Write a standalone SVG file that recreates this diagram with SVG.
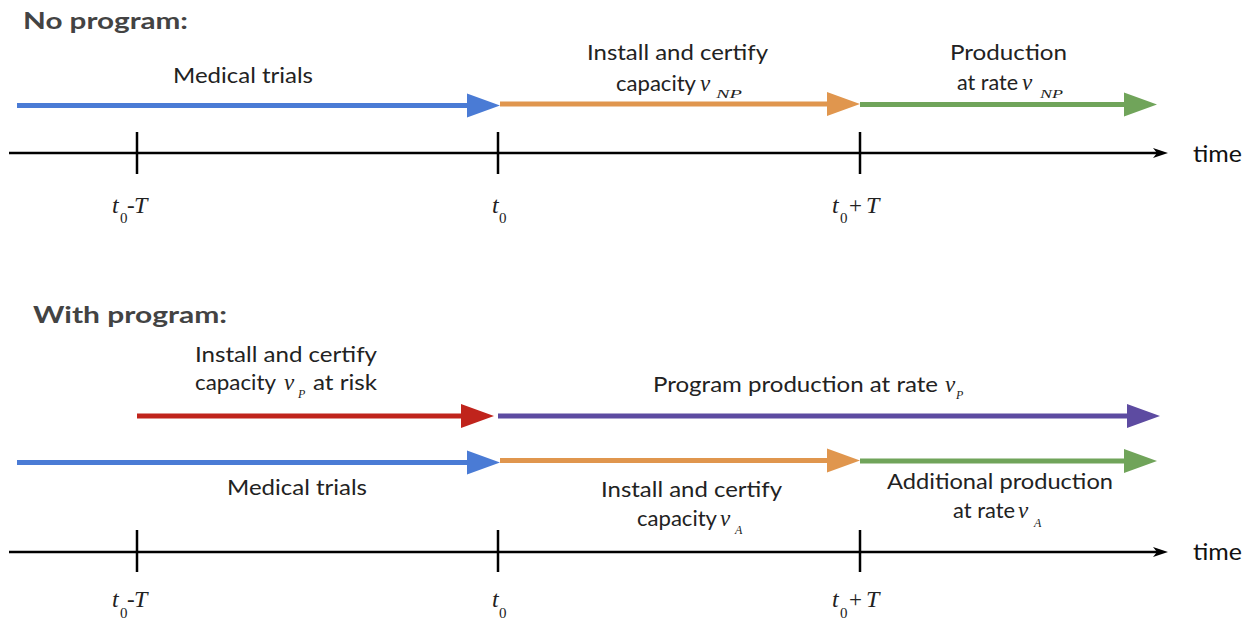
<svg xmlns="http://www.w3.org/2000/svg" width="1252" height="626" viewBox="0 0 1252 626">
<style>
.title{font-family:Lato,"Liberation Sans",sans-serif;font-weight:bold;font-size:22px;fill:#434343}
.lbl{font-family:Lato,"Liberation Sans",sans-serif;font-size:21px;fill:#222}
.m{font-family:"Liberation Serif",serif;font-style:italic;font-size:24px;fill:#222}
.v{font-family:"Liberation Serif",serif;font-style:italic;font-size:23px;fill:#222}
.ms{font-family:"Liberation Serif",serif;font-style:italic;font-size:12px;fill:#222}
.z{font-family:"Liberation Serif",serif;font-size:15px;fill:#222}
.op{font-family:"Liberation Serif",serif;font-size:23px;fill:#222}
.time{font-family:Lato,"Liberation Sans",sans-serif;font-size:23px;fill:#111}
.axis{stroke:#000;stroke-width:2.5;fill:none}
.tick{stroke:#000;stroke-width:2.5}
.seg{stroke-width:5;fill:none}
</style>
<defs>
<marker id="mBlue" markerUnits="userSpaceOnUse" markerWidth="34" markerHeight="26" refX="0" refY="12.5" orient="auto"><path d="M0,0.5 L33,12.5 L0,24.5 z" fill="#4a7bd5"/></marker>
<marker id="mOrange" markerUnits="userSpaceOnUse" markerWidth="34" markerHeight="26" refX="0" refY="12.5" orient="auto"><path d="M0,0.5 L33,12.5 L0,24.5 z" fill="#e0964e"/></marker>
<marker id="mGreen" markerUnits="userSpaceOnUse" markerWidth="34" markerHeight="26" refX="0" refY="12.5" orient="auto"><path d="M0,0.5 L33,12.5 L0,24.5 z" fill="#70a45a"/></marker>
<marker id="mRed" markerUnits="userSpaceOnUse" markerWidth="34" markerHeight="26" refX="0" refY="12.5" orient="auto"><path d="M0,0.5 L33,12.5 L0,24.5 z" fill="#c0241c"/></marker>
<marker id="mPurple" markerUnits="userSpaceOnUse" markerWidth="34" markerHeight="26" refX="0" refY="12.5" orient="auto"><path d="M0,0.5 L33,12.5 L0,24.5 z" fill="#5d4ba1"/></marker>
<marker id="mAxis" markerUnits="userSpaceOnUse" markerWidth="16" markerHeight="12" refX="4" refY="5.5" orient="auto"><path d="M0,0.5 L15,5.5 L0,10.5 L4,5.5 z" fill="#000"/></marker>
</defs>

<g id="titles">
<text class="title" x="23" y="29" textLength="165" lengthAdjust="spacingAndGlyphs">No program:</text>
<text class="title" x="33" y="323" textLength="194" lengthAdjust="spacingAndGlyphs">With program:</text>
</g>

<g id="connectors">
<line class="axis" x1="9" y1="153" x2="1157" y2="153" marker-end="url(#mAxis)"/>
<line class="seg" stroke="#4a7bd5" x1="17" y1="105.5" x2="467" y2="105.5" marker-end="url(#mBlue)"/>
<line class="seg" stroke="#e0964e" x1="500" y1="104" x2="827" y2="104" marker-end="url(#mOrange)"/>
<line class="seg" stroke="#70a45a" x1="860" y1="104.5" x2="1124" y2="104.5" marker-end="url(#mGreen)"/>
<line class="axis" x1="9" y1="552" x2="1157" y2="552" marker-end="url(#mAxis)"/>
<line class="seg" stroke="#c0241c" x1="137" y1="416" x2="461" y2="416" marker-end="url(#mRed)"/>
<line class="seg" stroke="#5d4ba1" x1="498" y1="416" x2="1127" y2="416" marker-end="url(#mPurple)"/>
<line class="seg" stroke="#4a7bd5" x1="17" y1="462.5" x2="467" y2="462.5" marker-end="url(#mBlue)"/>
<line class="seg" stroke="#e0964e" x1="500" y1="460.5" x2="827" y2="460.5" marker-end="url(#mOrange)"/>
<line class="seg" stroke="#70a45a" x1="860" y1="461" x2="1124" y2="461" marker-end="url(#mGreen)"/>
</g>

<g id="ticks">
<line class="tick" x1="137" y1="132" x2="137" y2="174"/>
<line class="tick" x1="498" y1="132" x2="498" y2="174"/>
<line class="tick" x1="860" y1="132" x2="860" y2="174"/>
<line class="tick" x1="137" y1="530" x2="137" y2="572"/>
<line class="tick" x1="498" y1="530" x2="498" y2="572"/>
<line class="tick" x1="860" y1="530" x2="860" y2="572"/>
</g>

<g id="top-labels">
<text class="lbl" x="173" y="83" textLength="140" lengthAdjust="spacingAndGlyphs">Medical trials</text>
<text class="lbl" x="587" y="60" textLength="181" lengthAdjust="spacingAndGlyphs">Install and certify</text>
<text class="lbl" x="616" y="91" textLength="80" lengthAdjust="spacingAndGlyphs">capacity</text>
<text class="v" x="700" y="91">v</text>
<text class="ms" x="716" y="98" textLength="26" lengthAdjust="spacingAndGlyphs">NP</text>
<text class="lbl" x="950" y="60" textLength="117" lengthAdjust="spacingAndGlyphs">Production</text>
<text class="lbl" x="957" y="90" textLength="61" lengthAdjust="spacingAndGlyphs">at rate</text>
<text class="v" x="1022" y="90">v</text>
<text class="ms" x="1040" y="98" textLength="23" lengthAdjust="spacingAndGlyphs">NP</text>
<text class="time" x="1193" y="162" textLength="49" lengthAdjust="spacingAndGlyphs">time</text>
</g>

<g id="top-tick-labels">
<text class="m" x="112" y="213">t</text><text class="z" x="120" y="223">0</text><text class="op" x="127" y="213">-</text><text class="m" x="134" y="213">T</text>
<text class="m" x="492" y="213">t</text><text class="z" x="499" y="223">0</text>
<text class="m" x="832" y="213">t</text><text class="z" x="840" y="223">0</text><text class="op" x="849" y="213">+</text><text class="m" x="866" y="213">T</text>
</g>

<g id="bottom-labels">
<text class="lbl" x="195" y="362" textLength="182" lengthAdjust="spacingAndGlyphs">Install and certify</text>
<text class="lbl" x="195" y="390" textLength="81" lengthAdjust="spacingAndGlyphs">capacity</text>
<text class="v" x="284" y="390">v</text>
<text class="ms" x="298" y="398">P</text>
<text class="lbl" x="313" y="390" textLength="64" lengthAdjust="spacingAndGlyphs">at risk</text>
<text class="lbl" x="653" y="392" textLength="285" lengthAdjust="spacingAndGlyphs">Program production at rate</text>
<text class="v" x="945" y="392">v</text>
<text class="ms" x="956" y="399">P</text>
<text class="lbl" x="227" y="495" textLength="140" lengthAdjust="spacingAndGlyphs">Medical trials</text>
<text class="lbl" x="601" y="497" textLength="181" lengthAdjust="spacingAndGlyphs">Install and certify</text>
<text class="lbl" x="637" y="526" textLength="80" lengthAdjust="spacingAndGlyphs">capacity</text>
<text class="v" x="720" y="526">v</text>
<text class="ms" x="735" y="534">A</text>
<text class="lbl" x="887" y="489" textLength="226" lengthAdjust="spacingAndGlyphs">Additional production</text>
<text class="lbl" x="953" y="518" textLength="62" lengthAdjust="spacingAndGlyphs">at rate</text>
<text class="v" x="1018" y="518">v</text>
<text class="ms" x="1034" y="527">A</text>
<text class="time" x="1193" y="560" textLength="49" lengthAdjust="spacingAndGlyphs">time</text>
</g>

<g id="bottom-tick-labels">
<text class="m" x="112" y="607">t</text><text class="z" x="120" y="618">0</text><text class="op" x="127" y="607">-</text><text class="m" x="134" y="607">T</text>
<text class="m" x="492" y="607">t</text><text class="z" x="499" y="618">0</text>
<text class="m" x="832" y="607">t</text><text class="z" x="840" y="618">0</text><text class="op" x="849" y="607">+</text><text class="m" x="866" y="607">T</text>
</g>
</svg>
